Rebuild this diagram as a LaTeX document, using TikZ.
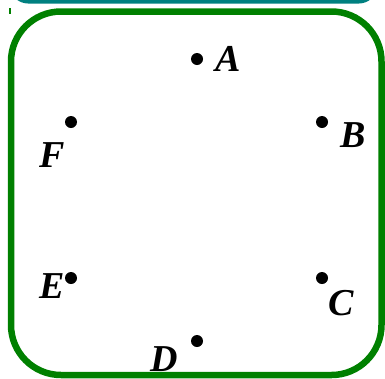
\documentclass[tikz,border=0pt]{standalone}
\usepackage{fontspec}
\setmainfont{Liberation Serif}
\begin{document}
\begin{tikzpicture}[x=1pt,y=-1pt,
  pt/.style={circle,fill=black,inner sep=0pt,minimum size=12pt},
  lab/.style={inner sep=0pt,font=\fontsize{38}{40}\selectfont\bfseries\itshape}]
\useasboundingbox (0,0) rectangle (385,378);
\clip (0,0) rectangle (385,378);
\definecolor{tealc}{RGB}{0,128,128}
\definecolor{greenc}{RGB}{0,128,0}
\draw[tealc,line width=6pt,rounded corners=15pt] (13,-100) rectangle (374,0.5);
\draw[greenc,line width=1.5pt] (10,8) -- (10,14);
\draw[greenc,line width=6.5pt,rounded corners=50pt] (11,11.5) rectangle (381.5,375);
\node[pt] (a) at (197,59) {};
\node[pt] (b) at (322,122) {};
\node[pt] (c) at (322,278) {};
\node[pt] (d) at (197,341) {};
\node[pt] (e) at (71,278) {};
\node[pt] (f) at (71,122) {};
\node[lab] (la) at (228,59) {A};
\node[lab] (lb) at (353,135) {B};
\node[lab] (lc) at (341,303) {C};
\node[lab] (ld) at (164,359) {D};
\node[lab] (le) at (52,286) {E};
\node[lab] (lf) at (52,155) {F};
\end{tikzpicture}
\end{document}
